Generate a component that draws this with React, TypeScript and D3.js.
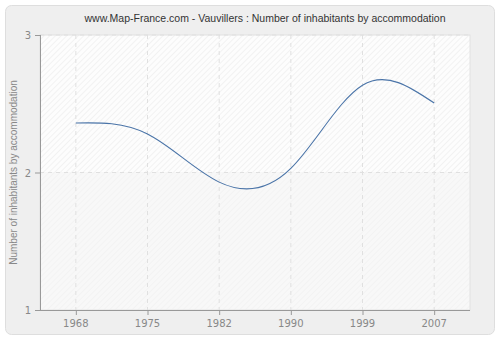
import React from "react";
import * as d3 from "d3";

const years = ["1968", "1975", "1982", "1990", "1999", "2007"];
const values = [2.36, 2.28, 1.93, 2.03, 2.635, 2.505];
const yTicks = [1, 2, 3];

export default function App() {
  const W = 500, H = 340;
  const left = 40, right = 470, top = 35, bottom = 310;
  const x = d3.scaleBand<string>().domain(years).range([left, right]);
  const cx = (d: string) => (x(d) as number) + x.bandwidth() / 2;
  const y = d3.scaleLinear().domain([1, 3]).range([bottom, top]);
  const line = d3
    .line<number>()
    .x((_, i) => cx(years[i]))
    .y((d) => y(d))
    .curve(d3.curveNatural);
  const font = "Verdana, 'DejaVu Sans', sans-serif";
  const font2 = "'Liberation Sans', Arial, sans-serif";
  return (
    <svg width={W} height={H} style={{ position: "absolute", left: 0, top: 0 }}>
      <defs>
        <pattern id="hatch" width="4" height="4" patternUnits="userSpaceOnUse" patternTransform="rotate(45)">
          <rect width="4" height="4" fill="#fdfdfd" />
          <line x1="0" y1="0" x2="0" y2="4" stroke="#ececec" strokeWidth="1.2" />
        </pattern>
        <pattern id="hatch2" width="4" height="4" patternUnits="userSpaceOnUse" patternTransform="rotate(45)">
          <rect width="4" height="4" fill="#f8f8f8" />
          <line x1="0" y1="0" x2="0" y2="4" stroke="#f0f0f0" strokeWidth="1.2" />
        </pattern>
      </defs>
      <rect x={0} y={0} width={W} height={H} fill="#ffffff" />
      <rect x={5.5} y={5.5} width={489} height={329} rx={6} fill="#efefef" stroke="#dedede" />
      <rect x={left} y={top} width={right - left} height={y(2) - top} fill="url(#hatch)" />
      <rect x={left} y={y(2)} width={right - left} height={bottom - y(2)} fill="url(#hatch2)" />
      <rect x={left} y={top} width={right - left} height={bottom - top} fill="none" stroke="#e2e2e2" />
      {years.map((d) => (
        <line key={d} x1={cx(d)} x2={cx(d)} y1={top} y2={bottom} stroke="#e0e0e0" strokeDasharray="4,4" />
      ))}
      {yTicks.slice(1).map((t) => (
        <line key={t} x1={left} x2={right} y1={y(t)} y2={y(t)} stroke="#e0e0e0" strokeDasharray="4,4" />
      ))}
      <path d={line(values) || ""} fill="none" stroke="#4a74a8" strokeWidth={1.1} />
      <line x1={left + 0.5} x2={left + 0.5} y1={top} y2={bottom} stroke="#999" />
      <line x1={left} x2={right} y1={bottom + 0.5} y2={bottom + 0.5} stroke="#999" />
      {yTicks.map((t) => (
        <g key={t}>
          <line x1={left - 5} x2={left} y1={y(t) + 0.5} y2={y(t) + 0.5} stroke="#999" />
          <text x={left - 9} y={y(t) + 4} textAnchor="end" fontSize={10} fill="#888" fontFamily={font}>
            {t}
          </text>
        </g>
      ))}
      {years.map((d) => (
        <g key={d}>
          <line x1={cx(d) + 0.5} x2={cx(d) + 0.5} y1={bottom} y2={bottom + 5} stroke="#999" />
          <text x={cx(d)} y={bottom + 17} textAnchor="middle" fontSize={10} fill="#888" fontFamily={font}>
            {d}
          </text>
        </g>
      ))}
      <text x={265} y={22} textAnchor="middle" fontSize={10.5} fill="#333" fontFamily={font2}>
        www.Map-France.com - Vauvillers : Number of inhabitants by accommodation
      </text>
      <text
        transform={`translate(17,${(top + bottom) / 2}) rotate(-90)`}
        textAnchor="middle"
        fontSize={10}
        fill="#888"
        fontFamily={font2}
      >
        Number of inhabitants by accommodation
      </text>
    </svg>
  );
}
